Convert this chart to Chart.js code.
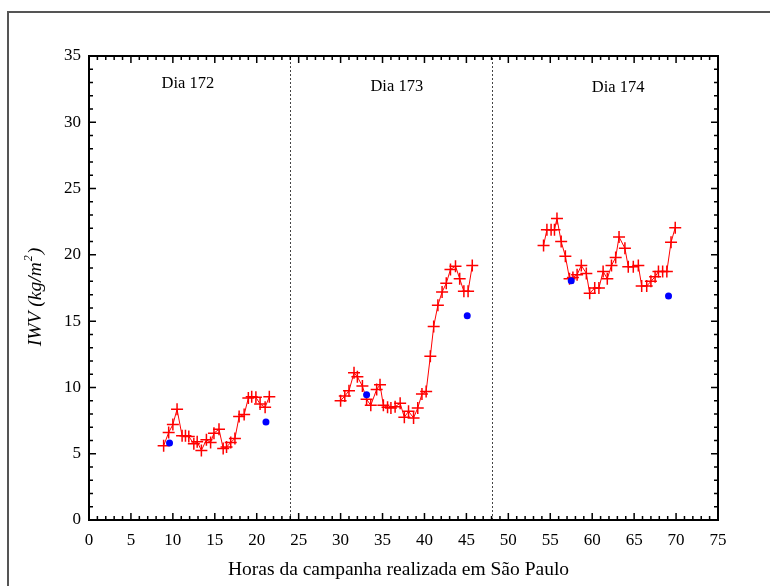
<!DOCTYPE html>
<html>
<head>
<meta charset="utf-8">
<script src="https://cdn.jsdelivr.net/npm/chart.js@4/dist/chart.umd.min.js"></script>
<style>
  html, body { margin: 0; padding: 0; background: #fff; }
  canvas { display: block; }
</style>
</head>
<body>
<canvas id="c" width="770" height="586"></canvas>
<script>
// ---- Data ----
const hours172 = [8.9, 9.5, 10.0, 10.5, 11.1, 11.5, 11.9, 12.5, 12.9, 13.4, 14.0, 14.5, 14.9, 15.5, 16.0, 16.4, 16.9, 17.4, 17.9, 18.5, 19.0, 19.4, 19.9, 20.4, 21.0, 21.5];
const iwvGps172 = [5.6, 6.6, 7.2, 8.35, 6.35, 6.35, 6.3, 5.75, 5.9, 5.25, 6.05, 5.85, 6.55, 6.85, 5.4, 5.5, 5.85, 6.15, 7.8, 7.95, 9.2, 9.3, 9.25, 8.75, 8.5, 9.3];

const hours173 = [30.0, 30.5, 31.0, 31.6, 32.0, 32.6, 33.1, 33.6, 34.3, 34.7, 35.1, 35.6, 36.0, 36.5, 37.1, 37.6, 38.1, 38.7, 39.2, 39.7, 40.2, 40.7, 41.1, 41.6, 42.1, 42.6, 43.1, 43.7, 44.2, 44.7, 45.2, 45.7];
const iwvGps173 = [9.0, 9.35, 9.75, 11.1, 10.8, 10.1, 9.1, 8.65, 9.85, 10.2, 8.65, 8.5, 8.45, 8.55, 8.8, 7.75, 8.2, 7.7, 8.45, 9.5, 9.7, 12.35, 14.6, 16.2, 17.2, 17.85, 18.9, 19.15, 18.2, 17.25, 17.25, 19.2];

const hours174 = [54.2, 54.6, 55.1, 55.5, 55.8, 56.3, 56.8, 57.3, 57.7, 58.2, 58.7, 59.3, 59.7, 60.3, 60.8, 61.3, 61.8, 62.3, 62.8, 63.2, 63.9, 64.3, 64.9, 65.5, 65.9, 66.5, 67.0, 67.5, 67.9, 68.4, 68.9, 69.4, 69.9];
const iwvGps174 = [20.7, 21.9, 21.9, 21.9, 22.75, 21.0, 19.9, 18.2, 18.3, 18.5, 19.2, 18.6, 17.1, 17.5, 17.5, 18.75, 18.2, 19.2, 19.8, 21.35, 20.5, 19.1, 19.1, 19.2, 17.65, 17.65, 18.0, 18.35, 18.75, 18.75, 18.75, 20.95, 22.05];

const hoursSonde = [9.6, 21.1, 33.1, 45.1, 57.5, 69.1];
const iwvSonde = [5.8, 7.4, 9.45, 15.4, 18.05, 16.9];

const dayLabels = ["Dia 172", "Dia 173", "Dia 174"];
const dayLabelX = [11.8, 36.7, 63.1];
const dayLabelY = [32.9, 32.7, 32.6];
const dayBoundaries = [24, 48];

const xTitle = "Horas da campanha realizada em São Paulo";
const yTitleMain = "IWV (kg/m";
const yTitleSup = "2";
const yTitleEnd = ")";

// ---- helpers ----
function pts(xs, ys) { return xs.map((x, i) => ({ x: x, y: ys[i] })); }

const serif = "'Liberation Serif', 'DejaVu Serif', serif";

const gpsStyle = {
  showLine: true,
  order: 2,
  borderColor: '#ff0000',
  borderWidth: 1,
  pointStyle: 'cross',
  pointRadius: 6,
  pointHoverRadius: 6,
  pointBorderColor: '#ff0000',
  pointBackgroundColor: '#ff0000',
  pointBorderWidth: 1.5,
  tension: 0
};

const framePlugin = {
  id: 'frame',
  beforeDraw(chart) {
    const ctx = chart.ctx;
    ctx.save();
    ctx.strokeStyle = '#555555';
    ctx.lineWidth = 2;
    ctx.beginPath();
    ctx.moveTo(8, 586);
    ctx.lineTo(8, 12);
    ctx.lineTo(770, 12);
    ctx.stroke();
    ctx.restore();
  },
  afterDraw(chart) {
    const ctx = chart.ctx;
    const a = chart.chartArea;
    const xs = chart.scales.x, ys = chart.scales.y;
    ctx.save();
    // dotted day boundaries
    ctx.strokeStyle = '#444';
    ctx.lineWidth = 1;
    ctx.setLineDash([2, 2]);
    dayBoundaries.forEach(v => {
      const px = Math.round(xs.getPixelForValue(v)) + 0.5;
      ctx.beginPath();
      ctx.moveTo(px, a.bottom);
      ctx.lineTo(px, a.top);
      ctx.stroke();
    });
    ctx.setLineDash([]);
    // ticks inward
    ctx.strokeStyle = '#000';
    ctx.lineWidth = 1.5;
    for (let v = xs.min; v <= xs.max; v += 1) {
      const px = xs.getPixelForValue(v);
      const len = (v % 5 === 0) ? 7 : 4;
      ctx.beginPath();
      ctx.moveTo(px, a.bottom); ctx.lineTo(px, a.bottom - len);
      ctx.moveTo(px, a.top); ctx.lineTo(px, a.top + len);
      ctx.stroke();
    }
    for (let v = ys.min; v <= ys.max; v += 1) {
      const py = ys.getPixelForValue(v);
      const len = (v % 5 === 0) ? 7 : 4;
      ctx.beginPath();
      ctx.moveTo(a.left, py); ctx.lineTo(a.left + len, py);
      ctx.moveTo(a.right, py); ctx.lineTo(a.right - len, py);
      ctx.stroke();
    }
    // axis box
    ctx.lineWidth = 2;
    ctx.strokeRect(a.left, a.top, a.right - a.left, a.bottom - a.top);
    // day labels
    ctx.fillStyle = '#000';
    ctx.font = '16.5px ' + serif;
    ctx.textAlign = 'center';
    ctx.textBaseline = 'middle';
    dayLabels.forEach((t, i) => {
      ctx.fillText(t, xs.getPixelForValue(dayLabelX[i]), ys.getPixelForValue(dayLabelY[i]));
    });
    // x title
    ctx.font = '19.5px ' + serif;
    ctx.fillText(xTitle, (a.left + a.right) / 2 - 5, 570);
    // y title with superscript
    ctx.save();
    ctx.translate(34, (a.top + a.bottom) / 2 + 9);
    ctx.rotate(-Math.PI / 2);
    ctx.textAlign = 'left';
    ctx.textBaseline = 'alphabetic';
    const fMain = 'italic 19.5px ' + serif;
    const fSup = 'italic 12px ' + serif;
    ctx.font = fMain;
    const w1 = ctx.measureText(yTitleMain).width;
    const w3 = ctx.measureText(yTitleEnd).width;
    ctx.font = fSup;
    const w2 = ctx.measureText(yTitleSup).width + 2;
    const total = w1 + w2 + w3;
    let x0 = -total / 2;
    const base = 7;
    ctx.font = fMain;
    ctx.fillText(yTitleMain, x0, base);
    ctx.font = fSup;
    ctx.fillText(yTitleSup, x0 + w1 + 1, base - 9);
    ctx.font = fMain;
    ctx.fillText(yTitleEnd, x0 + w1 + w2, base);
    ctx.restore();
    ctx.restore();
  }
};

new Chart(document.getElementById('c'), {
  type: 'scatter',
  data: {
    datasets: [
      Object.assign({ label: 'GPS 172', data: pts(hours172, iwvGps172) }, gpsStyle),
      Object.assign({ label: 'GPS 173', data: pts(hours173, iwvGps173) }, gpsStyle),
      Object.assign({ label: 'GPS 174', data: pts(hours174, iwvGps174) }, gpsStyle),
      {
        label: 'Radiossonda',
        data: pts(hoursSonde, iwvSonde),
        order: 0,
        showLine: false,
        pointStyle: 'circle',
        pointRadius: 3.5,
        pointHoverRadius: 3.5,
        pointBackgroundColor: '#0000ff',
        pointBorderColor: '#0000ff',
        pointBorderWidth: 0
      }
    ]
  },
  options: {
    responsive: false,
    animation: false,
    devicePixelRatio: 1,
    layout: { padding: { left: 0, top: 56, right: 52, bottom: 0 } },
    plugins: { legend: { display: false }, tooltip: { enabled: false } },
    scales: {
      x: {
        type: 'linear', min: 0, max: 75,
        grid: { display: false, drawTicks: false },
        border: { display: false },
        ticks: { stepSize: 5, padding: 10, color: '#000', font: { family: serif, size: 17 } },
        afterFit(s) { s.height = 66; }
      },
      y: {
        type: 'linear', min: 0, max: 35,
        grid: { display: false, drawTicks: false },
        border: { display: false },
        ticks: { stepSize: 5, padding: 8, color: '#000', font: { family: serif, size: 17 } },
        afterFit(s) { s.width = 89; }
      }
    }
  },
  plugins: [framePlugin]
});
</script>
</body>
</html>
